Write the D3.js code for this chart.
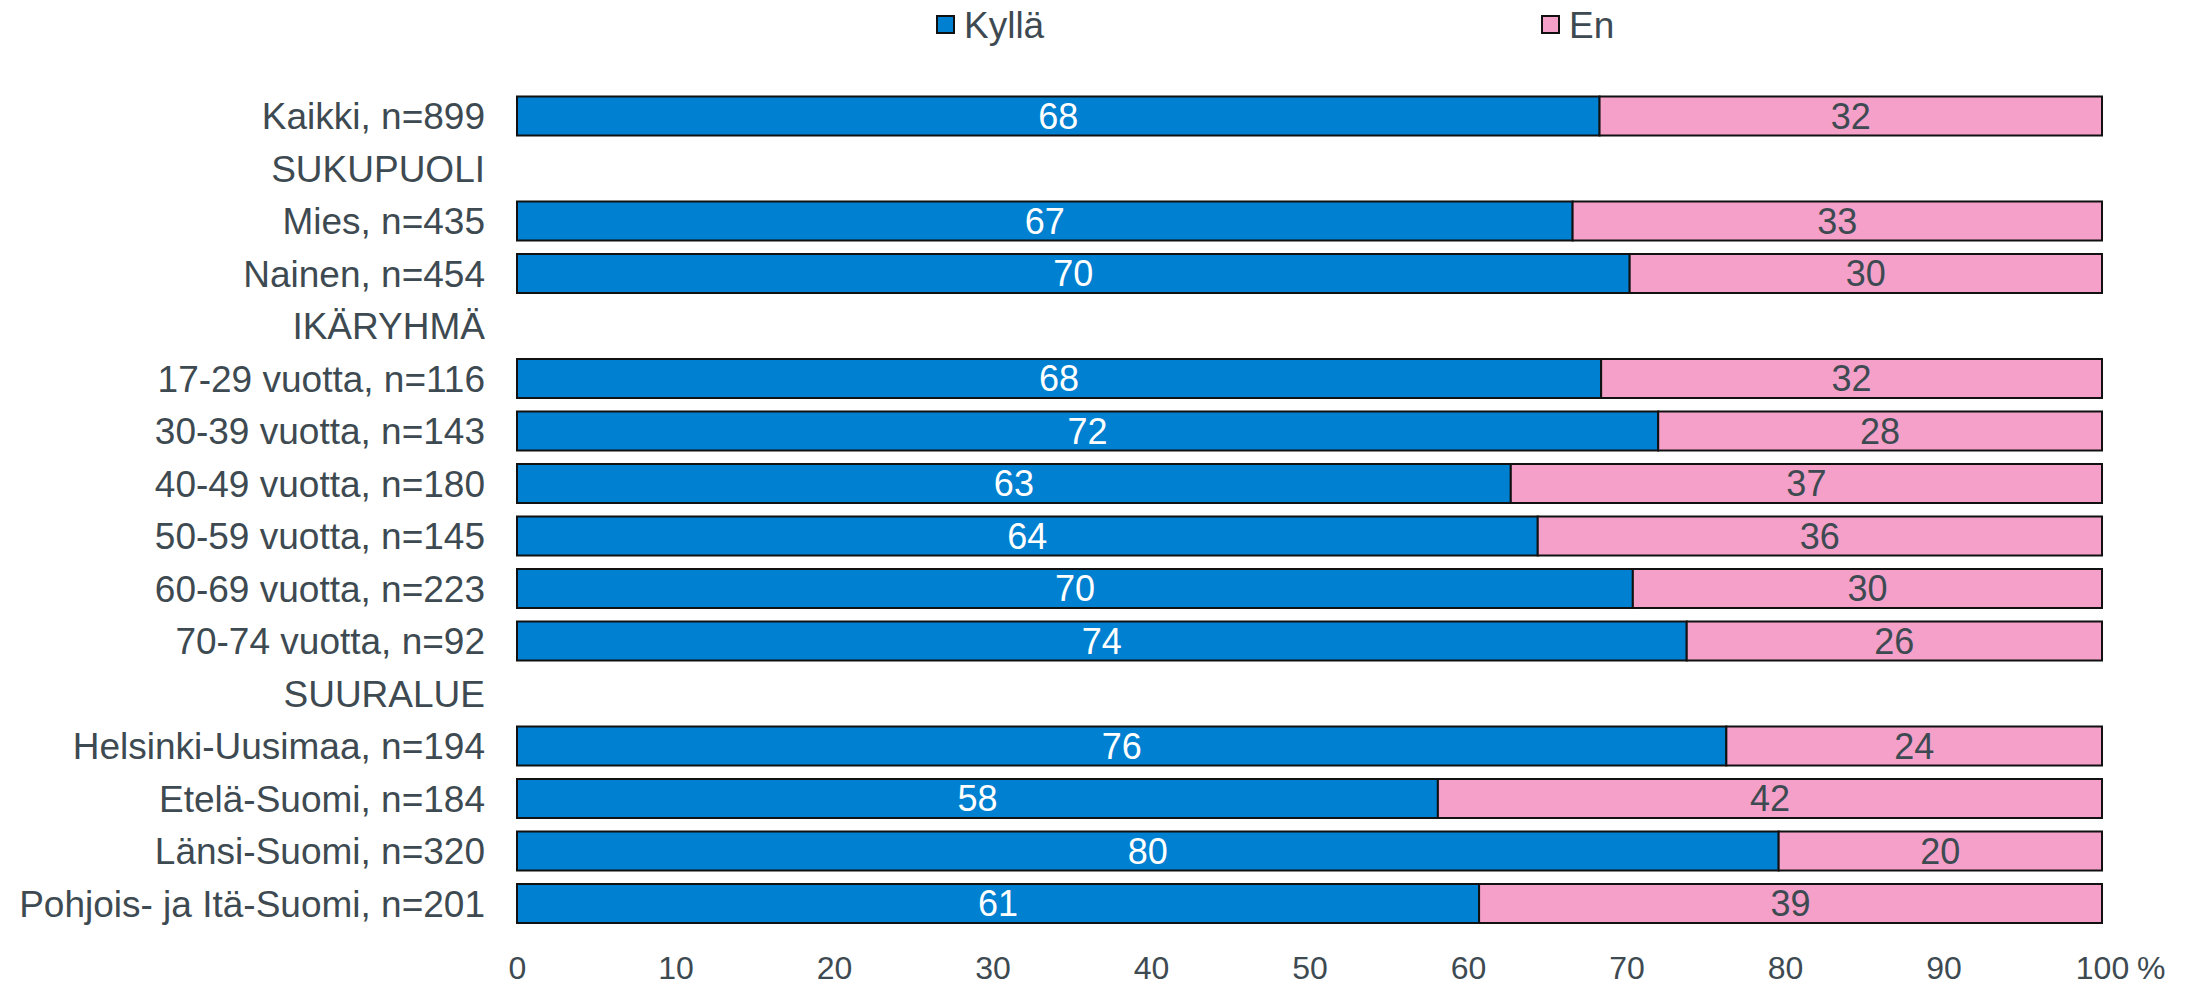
<!DOCTYPE html>
<html>
<head>
<meta charset="utf-8">
<script src="https://cdn.jsdelivr.net/npm/d3@7"></script>
<style>
  html, body { margin: 0; padding: 0; background: #fff; }
  svg { display: block; }
  text { font-family: "Liberation Sans", Arial, sans-serif; }
</style>
</head>
<body>
<svg id="chart" width="2193" height="985"></svg>
<script>
// ---- data ----
const categories = [
  "Kaikki, n=899",
  "SUKUPUOLI",
  "Mies, n=435",
  "Nainen, n=454",
  "IKÄRYHMÄ",
  "17-29 vuotta, n=116",
  "30-39 vuotta, n=143",
  "40-49 vuotta, n=180",
  "50-59 vuotta, n=145",
  "60-69 vuotta, n=223",
  "70-74 vuotta, n=92",
  "SUURALUE",
  "Helsinki-Uusimaa, n=194",
  "Etelä-Suomi, n=184",
  "Länsi-Suomi, n=320",
  "Pohjois- ja Itä-Suomi, n=201"
];
// null = group heading row (no bar)
const kylla = [68.3, null, 66.6, 70.2, null, 68.4, 72.0, 62.7, 64.4, 70.4, 73.8, null, 76.3, 58.1, 79.6, 60.7];
const en    = [31.7, null, 33.4, 29.8, null, 31.6, 28.0, 37.3, 35.6, 29.6, 26.2, null, 23.7, 41.9, 20.4, 39.3];
const seriesNames = ["Kyllä", "En"];
const seriesColors = ["#0080D0", "#F4A0C8"];
const xTicks = [0, 10, 20, 30, 40, 50, 60, 70, 80, 90, 100];
const unitLabel = "%";

// ---- build ----
const rows = categories.map((c, i) => ({ cat: c, kylla: kylla[i], en: en[i] }));
const barRows = rows.filter(d => d.kylla !== null);

const svg = d3.select("#chart");
const textColor = "#3E4A51";

const x = d3.scaleLinear().domain([0, 100]).range([517, 2102]);
const y = d3.scaleBand().domain(categories).range([83, 936.5]).paddingInner(0.257).paddingOuter(0.257);

const stack = d3.stack().keys(["kylla", "en"]);
const stacked = stack(barRows);

const g = svg.append("g");
stacked.forEach((layer, si) => {
  g.selectAll(null)
    .data(layer)
    .enter()
    .append("rect")
    .attr("x", d => x(d[0]))
    .attr("y", d => y(d.data.cat))
    .attr("width", d => x(d[1]) - x(d[0]))
    .attr("height", y.bandwidth())
    .attr("fill", seriesColors[si])
    .attr("stroke", "#111")
    .attr("stroke-width", 2);

  g.selectAll(null)
    .data(layer)
    .enter()
    .append("text")
    .attr("x", d => (x(d[0]) + x(d[1])) / 2)
    .attr("y", d => y(d.data.cat) + y.bandwidth() / 2)
    .attr("dy", "0.36em")
    .attr("text-anchor", "middle")
    .attr("font-size", 36)
    .attr("fill", si === 0 ? "#ffffff" : textColor)
    .text(d => d3.format(".0f")(d[1] - d[0]));
});

// category labels
svg.append("g")
  .selectAll("text")
  .data(categories)
  .enter()
  .append("text")
  .attr("x", 485)
  .attr("y", d => y(d) + y.bandwidth() / 2)
  .attr("dy", "0.36em")
  .attr("text-anchor", "end")
  .attr("font-size", 37)
  .attr("fill", textColor)
  .text(d => d);

// x axis
const xAxis = d3.axisBottom(x).tickValues(xTicks).tickSize(0).tickPadding(0).tickFormat(d3.format("d"));
const ax = svg.append("g").attr("transform", "translate(0,956)").call(xAxis);
ax.select(".domain").remove();
ax.selectAll("text")
  .attr("font-size", 32)
  .attr("font-family", "'Liberation Sans', Arial, sans-serif")
  .attr("fill", textColor)
  .attr("dy", "0.72em");
svg.append("text")
  .attr("x", 2137)
  .attr("y", 956)
  .attr("dy", "0.72em")
  .attr("font-size", 32)
  .attr("fill", textColor)
  .text(unitLabel);

// legend
const legendX = [936, 1541];
const lg = svg.append("g");
seriesNames.forEach((name, i) => {
  lg.append("rect")
    .attr("x", legendX[i] + 1)
    .attr("y", 16)
    .attr("width", 17)
    .attr("height", 17)
    .attr("fill", seriesColors[i])
    .attr("stroke", "#111")
    .attr("stroke-width", 2);
  lg.append("text")
    .attr("x", legendX[i] + 28)
    .attr("y", 25)
    .attr("dy", "0.36em")
    .attr("font-size", 37)
    .attr("fill", textColor)
    .text(name);
});
</script>
</body>
</html>
